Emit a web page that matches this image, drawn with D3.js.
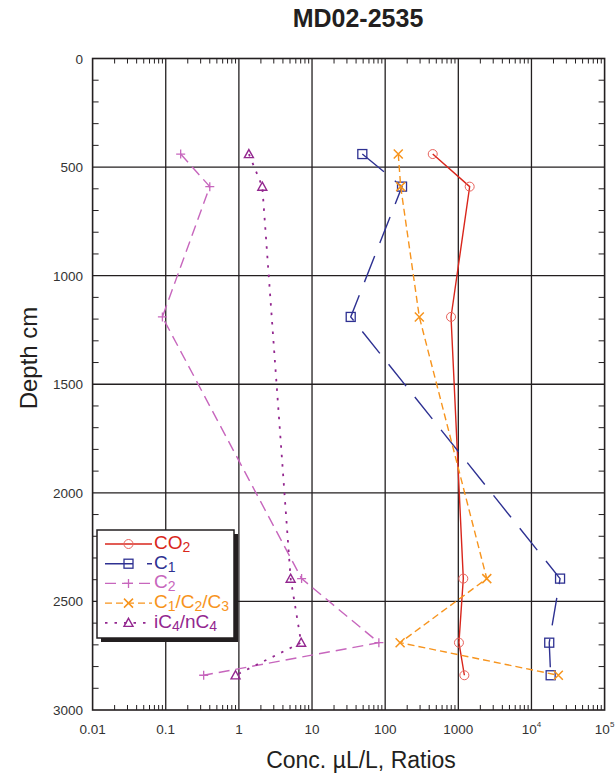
<!DOCTYPE html>
<html><head><meta charset="utf-8">
<script src="https://cdn.jsdelivr.net/npm/d3@7"></script>
<style>body{margin:0;background:#fff;} svg{display:block;font-family:"Liberation Sans",Arial,sans-serif;}</style>
</head><body>
<svg id="chart" width="616" height="780"></svg>
<script>
// ---- data ----
const depths   = [440, 590, 1190, 2395, 2690, 2840];
const co2      = [447, 1430, 795, 1170, 1020, 1210];
const c1       = [48.7, 170, 33.8, 24600, 17500, 18300];
const c2       = [0.16, 0.40, 0.090, 7.2, 82, 0.33];
const c1c2c3   = [151, 163, 293, 2450, 160, 23300];
const ic4nc4   = [1.37, 2.09, null, 5.1, 7.1, 0.90];
const xTickVals = [0.01, 0.1, 1, 10, 100, 1000, 1e4, 1e5];
const xTickLabels = ["0.01", "0.1", "1", "10", "100", "1000", "10^4", "10^5"];
const yTickVals = [0, 500, 1000, 1500, 2000, 2500, 3000];

const series = [
  {name:"CO2", vals:co2, color:"#d9261c", mcolor:"#e8625c", dash:null, marker:"circle"},
  {name:"C1", vals:c1, color:"#2e3192", mcolor:"#2e3192", dash:"28,14", marker:"square"},
  {name:"C2", vals:c2, color:"#c766bd", mcolor:"#c766bd", dash:"11,6", marker:"plus"},
  {name:"C1/C2/C3", vals:c1c2c3, color:"#f7941d", mcolor:"#f7941d", dash:"7,4", marker:"cross"},
  {name:"iC4/nC4", vals:ic4nc4, color:"#93278f", mcolor:"#93278f", dash:"2.5,7", marker:"triangle"}
];

const svg = d3.select("#chart");
const L = 92.6, R = 604.6, T = 58.5, B = 710;
const x = d3.scaleLog().domain([0.01, 1e5]).range([L, R]);
const y = d3.scaleLinear().domain([0, 3000]).range([T, B]);

// title
svg.append("text").attr("x", 358).attr("y", 27).attr("text-anchor", "middle")
  .attr("font-size", 25).attr("font-weight", "bold").attr("fill", "#231f20").text("MD02-2535");

// grid
const grid = svg.append("g").attr("stroke", "#231f20").attr("stroke-width", 1.3);
xTickVals.slice(1, -1).forEach(v => grid.append("line").attr("x1", x(v)).attr("x2", x(v)).attr("y1", T).attr("y2", B));
yTickVals.slice(1, -1).forEach(v => grid.append("line").attr("x1", L).attr("x2", R).attr("y1", y(v)).attr("y2", y(v)));

// minor ticks
const minor = svg.append("g").attr("stroke", "#231f20").attr("stroke-width", 1);
for (let e = -2; e < 5; e++) {
  for (let m = 2; m <= 9; m++) {
    const v = m * Math.pow(10, e), px = x(v);
    minor.append("line").attr("x1", px).attr("x2", px).attr("y1", B).attr("y2", B - 5);
    minor.append("line").attr("x1", px).attr("x2", px).attr("y1", T).attr("y2", T + 5);
  }
}
for (let d = 100; d < 3000; d += 100) {
  if (d % 500 === 0) continue;
  minor.append("line").attr("x1", L).attr("x2", L + 6).attr("y1", y(d)).attr("y2", y(d));
  minor.append("line").attr("x1", R).attr("x2", R - 6).attr("y1", y(d)).attr("y2", y(d));
}

// frame
svg.append("rect").attr("x", L).attr("y", T).attr("width", R - L).attr("height", B - T)
  .attr("fill", "none").attr("stroke", "#231f20").attr("stroke-width", 1.6);

// x tick labels
xTickVals.forEach((v, i) => {
  const lab = xTickLabels[i];
  const t = svg.append("text").attr("x", x(v)).attr("y", 734).attr("text-anchor", "middle")
    .attr("font-size", 13.5).attr("fill", "#333");
  if (lab.includes("^")) {
    const [b, s] = lab.split("^");
    t.append("tspan").text(b);
    t.append("tspan").attr("font-size", 8).attr("dy", -7).text(s);
  } else t.text(lab);
});
// y tick labels
yTickVals.forEach(v => {
  svg.append("text").attr("x", 83).attr("y", y(v) + 5).attr("text-anchor", "end")
    .attr("font-size", 13.5).attr("fill", "#333").text(v);
});

// axis titles
svg.append("text").attr("x", 361).attr("y", 768).attr("text-anchor", "middle")
  .attr("font-size", 23).attr("fill", "#231f20").text("Conc. \u00b5L/L, Ratios");
svg.append("text").attr("transform", "translate(37,358) rotate(-90)").attr("text-anchor", "middle")
  .attr("font-size", 24).attr("fill", "#231f20").text("Depth cm");

// markers
function drawMarker(g, type, cx, cy, color) {
  const s = 4.5;
  if (type === "circle") g.append("circle").attr("cx", cx).attr("cy", cy).attr("r", s).attr("fill", "none").attr("stroke", color).attr("stroke-width", 1);
  else if (type === "square") g.append("rect").attr("x", cx - s).attr("y", cy - s).attr("width", 2 * s).attr("height", 2 * s).attr("fill", "none").attr("stroke", color).attr("stroke-width", 1.3);
  else if (type === "plus") g.append("path").attr("d", `M${cx - s},${cy}H${cx + s}M${cx},${cy - s}V${cy + s}`).attr("stroke", color).attr("stroke-width", 1.3).attr("fill", "none");
  else if (type === "cross") g.append("path").attr("d", `M${cx - s},${cy - s}L${cx + s},${cy + s}M${cx - s},${cy + s}L${cx + s},${cy - s}`).attr("stroke", color).attr("stroke-width", 1.5).attr("fill", "none");
  else if (type === "triangle") g.append("path").attr("d", `M${cx},${cy - s}L${cx + s},${cy + s * 0.8}L${cx - s},${cy + s * 0.8}Z`).attr("stroke", color).attr("stroke-width", 1.4).attr("fill", "none");
}

const line = d3.line().x(d => x(d.v)).y(d => y(d.d));
series.forEach(s => {
  const pts = depths.map((d, i) => ({d, v: s.vals[i]})).filter(p => p.v != null);
  const g = svg.append("g");
  g.append("path").datum(pts).attr("d", line).attr("fill", "none").attr("stroke", s.color)
    .attr("stroke-width", s.marker === "triangle" ? 1.8 : 1.4).attr("stroke-dasharray", s.dash);
  pts.forEach(p => drawMarker(g, s.marker, x(p.v), y(p.d), s.mcolor));
});

// legend
const lg = svg.append("g");
lg.append("rect").attr("x", 101).attr("y", 534).attr("width", 137).attr("height", 108).attr("fill", "#231f20");
lg.append("rect").attr("x", 97).attr("y", 530).attr("width", 137).attr("height", 108).attr("fill", "#fff").attr("stroke", "#231f20").attr("stroke-width", 1.5);
series.forEach((s, i) => {
  const ly = 544 + i * 19.7;
  lg.append("line").attr("x1", 105).attr("x2", 152).attr("y1", ly).attr("y2", ly)
    .attr("stroke", s.color).attr("stroke-width", s.marker === "triangle" ? 1.8 : 1.4).attr("stroke-dasharray", s.dash);
  drawMarker(lg, s.marker, 128.5, ly, s.mcolor);
  const t = lg.append("text").attr("x", 154).attr("y", ly + 5).attr("font-size", 19).attr("fill", s.color);
  let sub = false;
  const tokens = s.name.split(/(\d)/).filter(q => q.length);
  tokens.forEach(tok => {
    if (/^\d$/.test(tok)) {
      t.append("tspan").attr("font-size", 14).attr("dy", 3).text(tok);
      sub = true;
    } else {
      t.append("tspan").attr("dy", sub ? -3 : 0).text(tok);
      sub = false;
    }
  });
});
</script>
</body></html>
